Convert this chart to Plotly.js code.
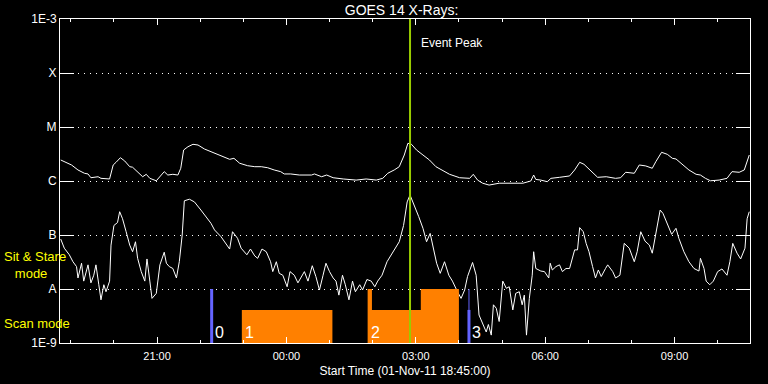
<!DOCTYPE html>
<html>
<head>
<meta charset="utf-8">
<script src="https://cdn.plot.ly/plotly-3.0.1.min.js"></script>
<style>
html,body{margin:0;padding:0;background:#000;}
#chart{width:768px;height:384px;}
</style>
</head>
<body>
<div id="chart"></div>
<script>
// ---- data (times are UT, start 01-Nov-2011 18:45) ----
const longTime = [
 '18:46','19:01','19:10','19:19','19:24','19:28','19:38','19:42','19:54','19:59',
 '20:03','20:09','20:15','20:22','20:26','20:33','20:40','20:45','20:50','20:59',
 '21:04','21:10','21:15','21:22','21:29','21:33','21:37','21:43','21:50','21:57',
 '22:06','22:15','22:25','22:34','22:41','22:47','22:55','23:06','23:16','23:25',
 '23:34','23:43','23:52','23:57','00:06','00:18','00:35','00:39','00:49','00:56',
 '01:05','01:19','01:37','01:51','02:05','02:14','02:21','02:30','02:37','02:44',
 '02:49','02:54','03:01','03:10','03:19','03:28','03:38','03:47','04:01','04:15',
 '04:20','04:26','04:33','04:42','04:56','05:10','05:29','05:40','05:44','05:47',
 '05:54','06:03','06:08','06:20','06:34','06:41','06:48','06:54','07:04','07:13',
 '07:25','07:38','07:45','07:52','08:04','08:11','08:20','08:29','08:34','08:42',
 '08:50','08:57','09:02','09:11','09:20','09:30','09:36','09:43','09:50','10:02',
 '10:13','10:20','10:30','10:37','10:41','10:44'];
const longFlux = [
 2.45e-6,1.98e-6,1.60e-6,1.39e-6,1.35e-6,1.15e-6,1.20e-6,1.12e-6,1.09e-6,1.98e-6,
 2.22e-6,2.70e-6,2.35e-6,1.84e-6,1.80e-6,1.49e-6,1.20e-6,1.33e-6,1.12e-6,1.01e-6,
 1.20e-6,1.49e-6,1.29e-6,1.33e-6,1.29e-6,1.72e-6,3.75e-6,4.31e-6,4.78e-6,4.64e-6,
 3.91e-6,3.49e-6,3.03e-6,2.70e-6,2.52e-6,2.63e-6,2.13e-6,1.92e-6,1.84e-6,1.84e-6,
 1.76e-6,1.60e-6,1.49e-6,1.35e-6,1.35e-6,1.29e-6,1.29e-6,1.35e-6,1.20e-6,1.29e-6,
 1.15e-6,1.09e-6,1.04e-6,1.09e-6,1.04e-6,1.12e-6,1.39e-6,1.60e-6,1.84e-6,3.03e-6,
 4.99e-6,4.78e-6,3.75e-6,3.03e-6,2.45e-6,1.84e-6,1.53e-6,1.33e-6,1.15e-6,1.12e-6,
 1.33e-6,1.04e-6,9.1e-7,8.4e-7,9.1e-7,9.1e-7,9.1e-7,1.00e-6,1.29e-6,1.07e-6,
 1.04e-6,9.7e-7,1.12e-6,1.17e-6,1.24e-6,1.60e-6,2.22e-6,2.04e-6,1.53e-6,1.17e-6,
 1.20e-6,1.12e-6,1.15e-6,1.45e-6,1.39e-6,1.98e-6,1.90e-6,1.72e-6,2.28e-6,3.40e-6,
 3.12e-6,2.63e-6,2.56e-6,1.98e-6,1.60e-6,1.33e-6,1.29e-6,1.12e-6,1.01e-6,1.04e-6,
 1.12e-6,1.49e-6,1.45e-6,1.60e-6,2.28e-6,3.03e-6];

const shortTime = [
 '18:46','18:51','18:58','19:03','19:08','19:10','19:15','19:18','19:24','19:28',
 '19:32','19:35','19:39','19:42','19:46','19:49','19:54','19:56','20:00','20:05',
 '20:08','20:12','20:17','20:22','20:26','20:30','20:33','20:38','20:43','20:46',
 '20:50','20:53','20:59','21:04','21:10','21:13','21:17','21:22','21:27','21:31',
 '21:35','21:38','21:45','21:52','22:01','22:08','22:15','22:20','22:29','22:41',
 '22:45','22:52','22:57','23:05','23:10','23:16','23:20','23:26','23:32','23:38',
 '23:41','23:46','23:50','23:55','00:01','00:05','00:11','00:16','00:21','00:25',
 '00:30','00:36','00:41','00:46','00:51','00:55','01:00','01:05','01:09','01:13',
 '01:18','01:22','01:27','01:32','01:36','01:42','01:46','01:52','01:58','02:03',
 '02:07','02:13','02:20','02:26','02:32','02:37','02:43','02:48','02:52','02:58',
 '03:04','03:10','03:15','03:20','03:25','03:29','03:34','03:40','03:46','03:51',
 '03:58','04:03','04:08','04:12','04:19','04:24','04:28','04:33','04:38','04:41',
 '04:45','04:48','04:52','04:56','05:01','05:06','05:10','05:15','05:19','05:24',
 '05:28','05:31','05:34','05:38','05:42','05:44','05:47','05:54','05:59','06:05',
 '06:07','06:10','06:15','06:20','06:24','06:29','06:34','06:41','06:45','06:48',
 '06:53','06:57','07:01','07:06','07:10','07:14','07:18','07:24','07:27','07:34',
 '07:38','07:44','07:50','07:57','08:04','08:08','08:13','08:19','08:25','08:29',
 '08:34','08:40','08:44','08:50','08:56','09:02','09:06','09:13','09:20','09:27',
 '09:34','09:36','09:41','09:44','09:49','09:54','10:00','10:06','10:13','10:17',
 '10:21','10:27','10:32','10:38','10:41','10:44'];
const shortFlux = [
 8.4e-8,5.7e-8,4.3e-8,3.2e-8,2.6e-8,1.6e-8,3.0e-8,1.4e-8,2.8e-8,1.3e-8,
 1.8e-8,2.8e-8,1.2e-8,6.3e-9,1.2e-8,8.9e-9,1.4e-8,6.5e-8,1.5e-7,1.7e-7,
 2.7e-7,2.0e-7,1.15e-7,6.5e-8,4.9e-8,7.5e-8,3.7e-8,2.1e-8,1.4e-8,3.6e-8,
 1.4e-8,6.7e-9,8.3e-9,2.8e-8,4.8e-8,3.0e-8,2.6e-8,2.4e-8,1.6e-8,3.2e-8,
 1.0e-7,4.3e-7,4.6e-7,4.1e-7,2.9e-7,2.2e-7,1.65e-7,1.24e-7,9.3e-8,5.5e-8,
 1.15e-7,8.7e-8,5.7e-8,4.3e-8,5.5e-8,4.1e-8,3.7e-8,5.5e-8,4.9e-8,3.2e-8,
 2.1e-8,3.2e-8,1.95e-8,1.8e-8,1.1e-8,2.1e-8,1.8e-8,1.3e-8,1.7e-8,2.1e-8,
 1.4e-8,2.7e-8,1.7e-8,9.6e-9,1.8e-8,3.0e-8,2.1e-8,1.6e-8,1.4e-8,7.7e-9,
 1.8e-8,1.2e-8,6.3e-9,1.4e-8,8.9e-9,1.2e-8,9.6e-9,1.5e-8,1.4e-8,1.1e-8,
 1.4e-8,1.8e-8,3.2e-8,4.3e-8,5.7e-8,7.5e-8,1.5e-7,4.1e-7,5.5e-7,3.6e-7,
 2.2e-7,1.33e-7,7.5e-8,1.07e-7,5.3e-8,3.0e-8,1.95e-8,3.2e-8,1.8e-8,1.4e-8,
 8.9e-9,6.7e-9,9.6e-9,1.7e-8,3.1e-8,1.8e-8,3.3e-9,2.2e-9,1.6e-9,2.2e-9,
 1.4e-9,5.1e-9,4.4e-9,2.5e-9,1.4e-8,1.03e-8,1.1e-8,4.1e-9,8.3e-9,8.9e-9,
 5.1e-9,7.7e-9,1.4e-9,6.7e-9,1.8e-8,4.9e-8,2.4e-8,2.15e-8,2.1e-8,1.6e-8,
 3.0e-8,2.25e-8,2.6e-8,2.8e-8,2.1e-8,2.4e-8,2.4e-8,5.3e-8,5.3e-8,1.37e-7,
 1.15e-7,7.0e-8,4.9e-8,2.6e-8,1.6e-8,2.25e-8,1.7e-8,2.4e-8,2.8e-8,2.1e-8,
 1.6e-8,1.8e-8,7.0e-8,5.7e-8,3.2e-8,4.9e-8,1.15e-7,7.7e-8,6.5e-8,4.6e-8,
 1.15e-7,2.9e-7,2.5e-7,1.65e-7,1.03e-7,1.33e-7,8.7e-8,4.9e-8,3.2e-8,2.4e-8,
 2.15e-8,3.7e-8,2.4e-8,1.4e-8,1.2e-8,1.4e-8,2.1e-8,2.35e-8,1.8e-8,3.2e-8,
 7.0e-8,4.6e-8,3.6e-8,5.7e-8,2.0e-7,2.7e-7];

// observing modes (orange blocks)
const modeStart = ['22:58','01:53','01:59','03:07'];
const modeEnd   = ['01:04','01:59','03:07','04:00'];
const modeType  = ['scan','sit','scan','sit'];
const modeFlux  = {scan: 4.1e-9, sit: 1.0e-8};

// blue markers
const markerTime   = ['22:16','04:14'];
const markerThick  = [1.0e-8, 4.1e-9];
const markerThin   = [1.0e-8, 1.0e-8];

// numbered labels
const labelText = ['0','1','2','3'];
const labelTime = ['22:16','22:58','01:53','04:14'];

const peakTime = '02:52';

const yTickVals = [1e-9,1e-8,1e-7,1e-6,1e-5,1e-4,1e-3];
const yTickText = ['1E-9','A','B','C','M','X','1E-3'];

// ---- helpers ----
function ts(hm){
  const h = parseInt(hm.slice(0,2),10);
  return (h >= 18 ? '2011-11-01 ' : '2011-11-02 ') + hm;
}
const FLOOR = 1e-9, CEIL = 1e-3;
const FONT = 'Liberation Sans, Arial, sans-serif';

// orange polygons
const ox = [], oy = [];
for (let i = 0; i < modeStart.length; i++){
  const lv = modeFlux[modeType[i]];
  ox.push(ts(modeStart[i]), ts(modeStart[i]), ts(modeEnd[i]), ts(modeEnd[i]), null);
  oy.push(FLOOR, lv, lv, FLOOR, null);
}
const bxThick = [], byThick = [], bxThin = [], byThin = [];
for (let i = 0; i < markerTime.length; i++){
  bxThick.push(ts(markerTime[i]), ts(markerTime[i]), null);
  byThick.push(FLOOR, markerThick[i], null);
  bxThin.push(ts(markerTime[i]), ts(markerTime[i]), null);
  byThin.push(FLOOR, markerThin[i], null);
}

const traces = [
  {x: longTime.map(ts), y: longFlux, mode:'lines', line:{color:'#ffffff', width:1}, hoverinfo:'skip'},
  {x: shortTime.map(ts), y: shortFlux, mode:'lines', line:{color:'#ffffff', width:1}, hoverinfo:'skip'},
  {x: ox, y: oy, mode:'lines', fill:'toself', fillcolor:'#ff8000', line:{width:0, color:'#ff8000'}, hoverinfo:'skip'},
  {x: bxThin, y: byThin, mode:'lines', line:{color:'#6464ff', width:1}, hoverinfo:'skip'},
  {x: bxThick, y: byThick, mode:'lines', line:{color:'#6464ff', width:3}, hoverinfo:'skip'},
  {x: [ts(peakTime), ts(peakTime)], y: [FLOOR, CEIL], mode:'lines', line:{color:'#99cc00', width:2}, hoverinfo:'skip'}
];

const annotations = [];
for (let i = 0; i < labelText.length; i++){
  annotations.push({x: ts(labelTime[i]), y: Math.log10(1.55e-9), xref:'x', yref:'y',
    text: labelText[i], showarrow:false, xanchor:'left', yanchor:'middle', xshift:1,
    font:{family:FONT, size:16, color:'#ffffff'}});
}
annotations.push({x: ts(peakTime), y: 0.926, xref:'x', yref:'paper', text:'Event Peak',
  showarrow:false, xanchor:'left', yanchor:'middle', xshift:9,
  font:{family:FONT, size:12, color:'#ffffff'}});
annotations.push({x: -0.084, y: 1 - (265 - 19)/324, xref:'paper', yref:'paper',
  text:'Sit &amp; Stare<br>&nbsp;&nbsp;&nbsp;mode', align:'left', showarrow:false,
  xanchor:'left', yanchor:'middle',
  font:{family:FONT, size:13, color:'#ffff00'}});
annotations.push({x: -0.084, y: 1 - (323 - 19)/324, xref:'paper', yref:'paper',
  text:'Scan mode', showarrow:false, xanchor:'left', yanchor:'middle',
  font:{family:FONT, size:13, color:'#ffff00'}});

const layout = {
  width:768, height:384,
  paper_bgcolor:'#000000', plot_bgcolor:'#000000',
  margin:{l:60, r:18, t:19, b:41},
  showlegend:false,
  title:{text:'GOES 14 X-Rays:', x:0.495, xref:'paper', y:1-10/384, yref:'container',
    xanchor:'center', yanchor:'middle', font:{family:FONT, size:14, color:'#ffffff'}},
  xaxis:{
    type:'date', range:[ts('18:45'), ts('10:45')],
    tick0: ts('21:00'), dtick: 3*3600000, tickformat:'%H:%M',
    ticks:'inside', ticklen:6, tickwidth:1, tickcolor:'#ffffff',
    minor:{dtick:3600000, ticks:'inside', ticklen:3, tickwidth:1, tickcolor:'#ffffff', showgrid:false},
    showline:true, linecolor:'#ffffff', linewidth:1, mirror:'ticks',
    showgrid:false, zeroline:false, ticklabelstandoff:3,
    tickfont:{family:FONT, size:11, color:'#ffffff'},
    title:{text:'Start Time (01-Nov-11 18:45:00)', standoff:5, font:{family:FONT, size:12, color:'#ffffff'}}
  },
  yaxis:{
    type:'log', range:[-9,-3],
    tickmode:'array', tickvals:yTickVals, ticktext:yTickText,
    ticks:'inside', ticklen:14, tickwidth:1, tickcolor:'#ffffff',
    showline:true, linecolor:'#ffffff', linewidth:1, mirror:'ticks',
    showgrid:true, gridcolor:'#ffffff', gridwidth:1, griddash:'1px,5px',
    zeroline:false,
    tickfont:{family:FONT, size:12, color:'#ffffff'}
  },
  annotations: annotations
};

Plotly.newPlot('chart', traces, layout, {staticPlot:true, displayModeBar:false});
</script>
</body>
</html>
